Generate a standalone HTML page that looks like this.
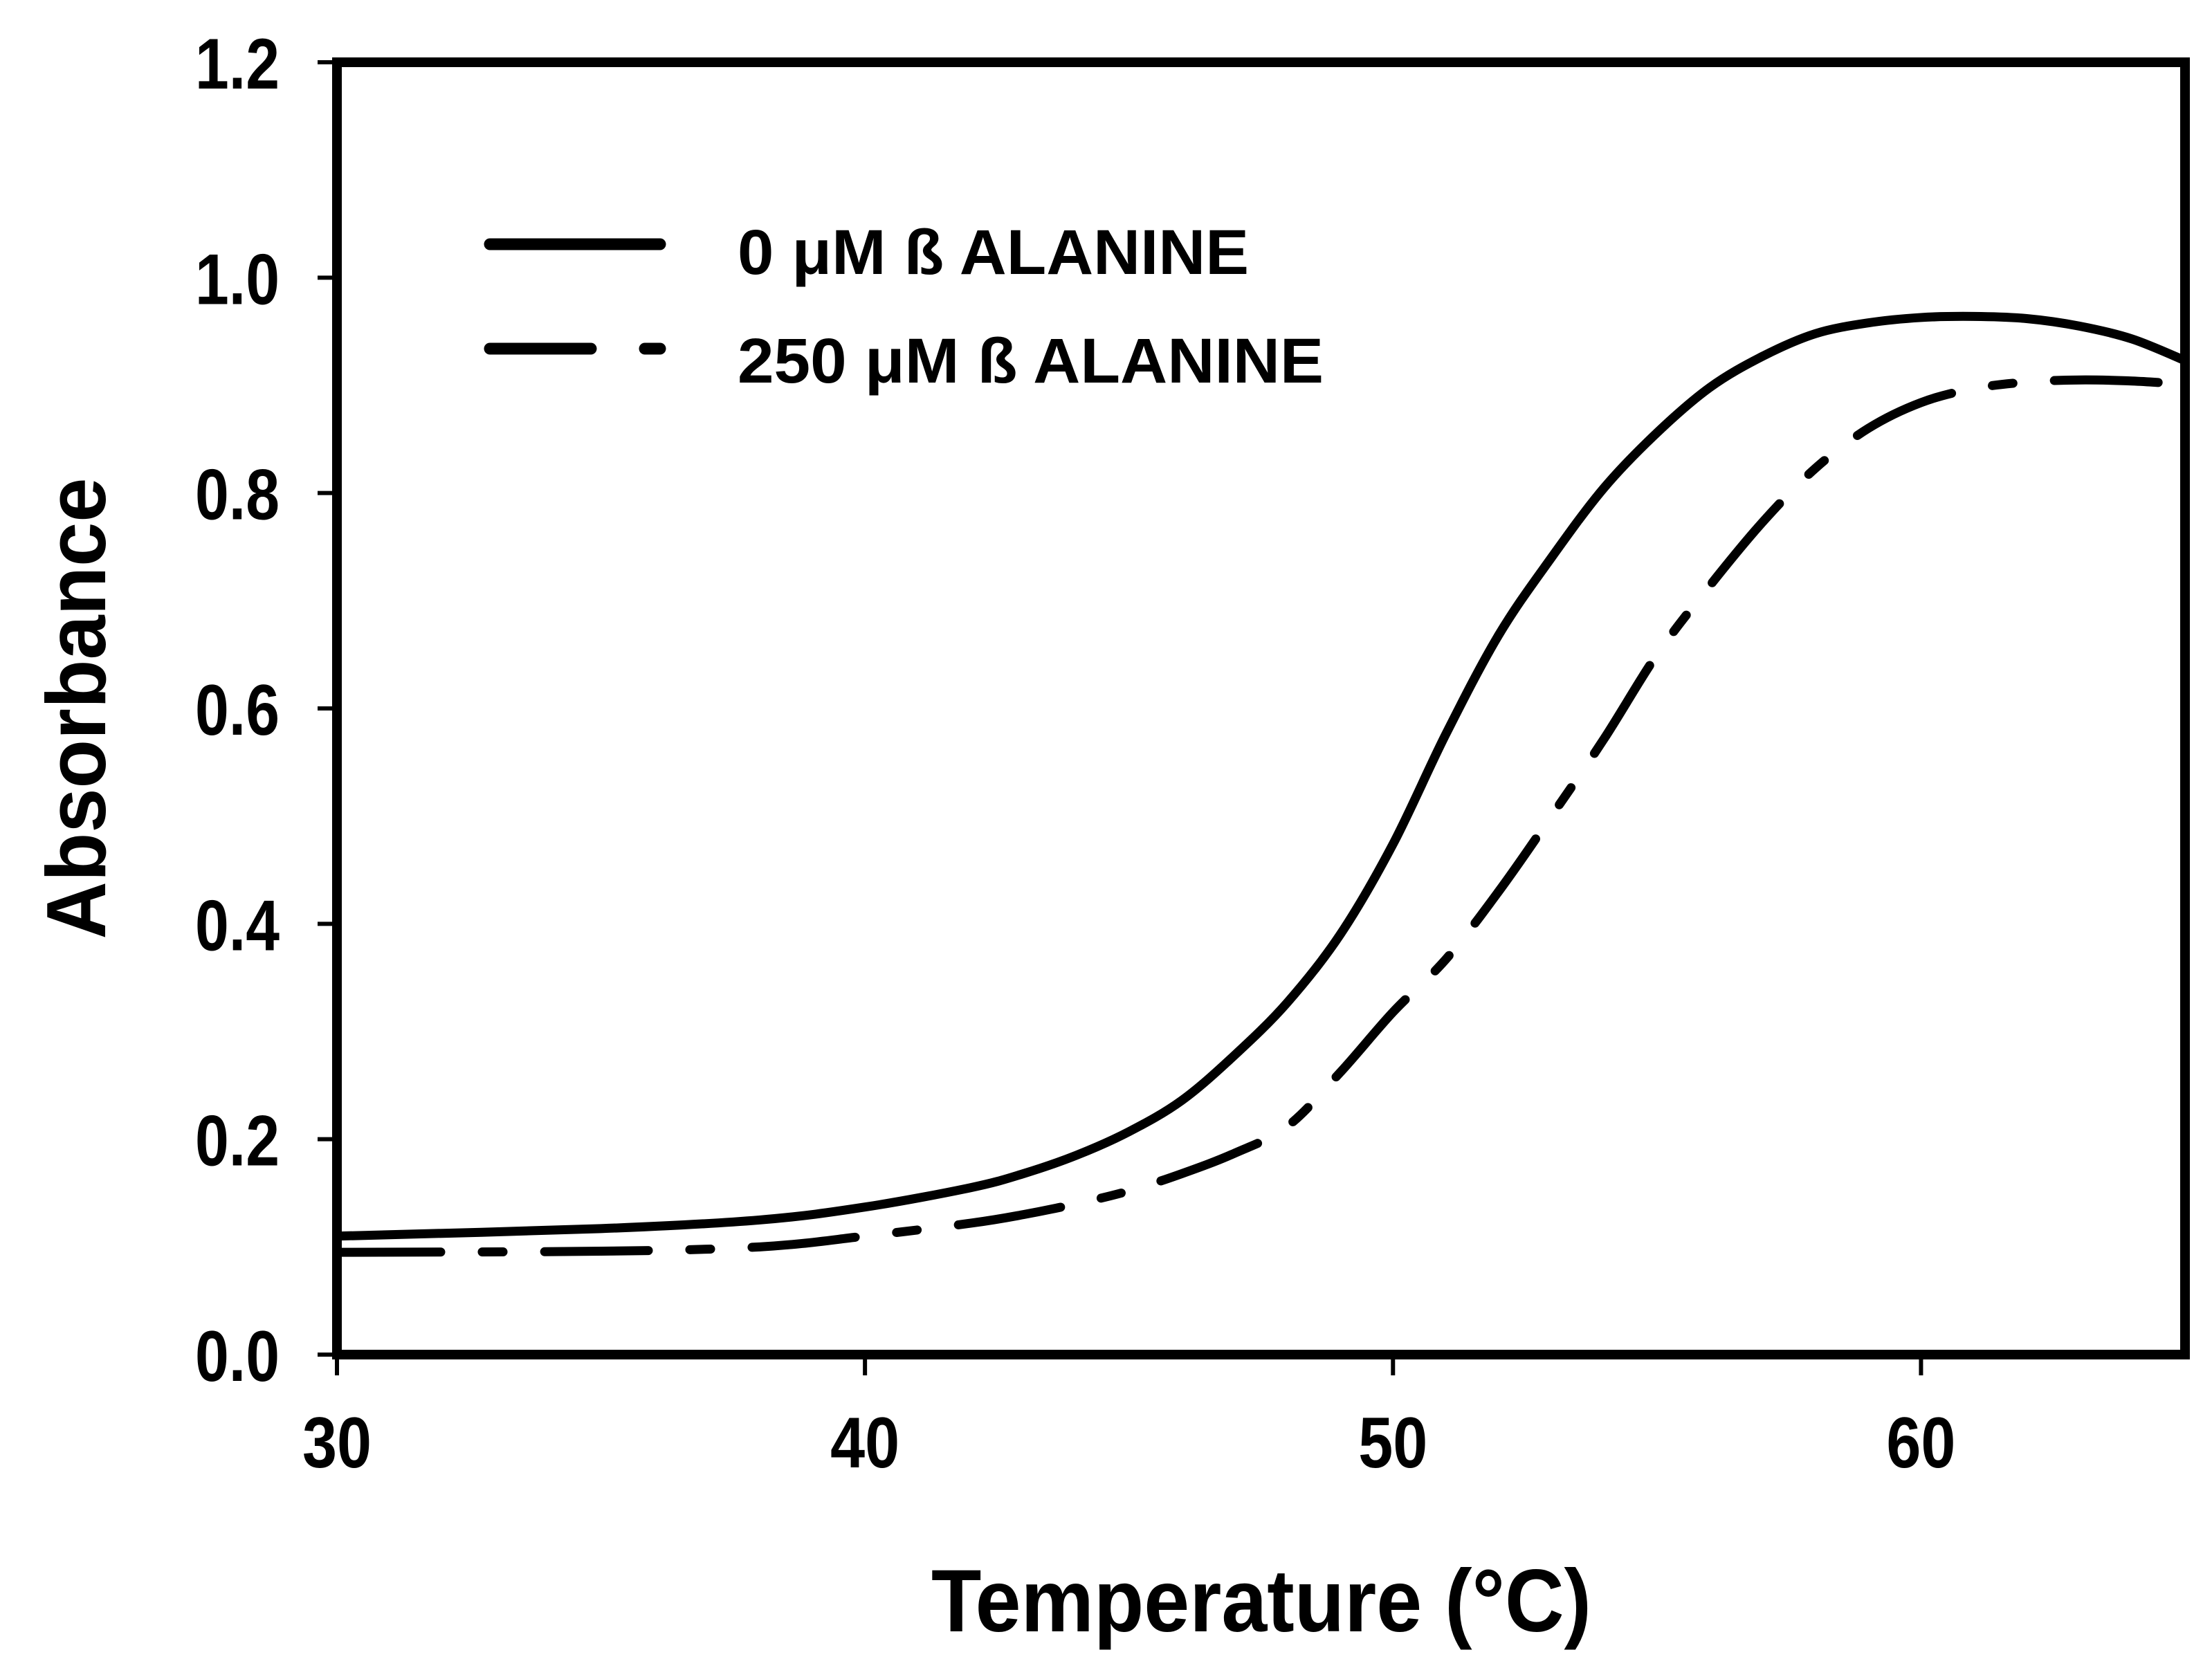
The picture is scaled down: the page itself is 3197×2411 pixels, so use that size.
<!DOCTYPE html>
<html><head><meta charset="utf-8"><style>
html,body{margin:0;padding:0;background:#fff;}
svg{display:block;}
text{font-family:"Liberation Sans",Arial,sans-serif;font-weight:bold;fill:#000;}
</style></head><body>
<svg id="chart" width="3197" height="2411" viewBox="0 0 3197 2411" xmlns="http://www.w3.org/2000/svg">
<rect x="0" y="0" width="3197" height="2411" fill="#fff"/>
<g id="plot"></g>
<text x="1823" y="2358" font-size="128" text-anchor="middle" textLength="954" lengthAdjust="spacingAndGlyphs">Temperature (°C)</text>
<text transform="translate(152,1024) rotate(-90)" font-size="122" text-anchor="middle" textLength="667" lengthAdjust="spacingAndGlyphs">Absorbance</text>
<g>
<line x1="708" y1="353" x2="954" y2="353" stroke="#000" stroke-width="17" stroke-linecap="round"/>
<text x="1066" y="396" font-size="92" textLength="739" lengthAdjust="spacingAndGlyphs">0 μM ß ALANINE</text>
<line x1="708" y1="504" x2="854" y2="504" stroke="#000" stroke-width="17" stroke-linecap="round"/>
<line x1="932" y1="504" x2="954" y2="504" stroke="#000" stroke-width="17" stroke-linecap="round"/>
<text x="1066" y="553" font-size="92" textLength="847" lengthAdjust="spacingAndGlyphs">250 μM ß ALANINE</text>
</g>
</svg>
<script>
const temps = [30,35,38,40,42,43,44,45,46,47,48,49,50,51,52,53,54,55,56,57,58,59,60,61,62,63,64,65];
const absNoAlanine = [0.110,0.117,0.125,0.137,0.155,0.168,0.185,0.207,0.236,0.278,0.327,0.390,0.474,0.576,0.668,0.740,0.805,0.856,0.898,0.927,0.948,0.958,0.963,0.964,0.962,0.955,0.943,0.923];
const absAlanine250 = [0.095,0.096,0.100,0.110,0.122,0.130,0.140,0.152,0.168,0.187,0.212,0.262,0.318,0.367,0.430,0.500,0.572,0.650,0.714,0.773,0.823,0.860,0.884,0.897,0.903,0.905,0.904,0.901];
const xTicks = [30,40,50,60];
const xTickLabels = ["30","40","50","60"];
const yTicks = [0.0,0.2,0.4,0.6,0.8,1.0,1.2];
const yTickLabels = ["0.0","0.2","0.4","0.6","0.8","1.0","1.2"];

const L=487, R=3158, T=90, B=1958, XMIN=30, XMAX=65, YMIN=0, YMAX=1.2;
const NS="http://www.w3.org/2000/svg";
function sx(v){return L+(v-XMIN)/(XMAX-XMIN)*(R-L);}
function sy(v){return B-(v-YMIN)/(YMAX-YMIN)*(B-T);}
const g=document.getElementById('plot');
function mk(tag,attrs){const e=document.createElementNS(NS,tag);for(const k in attrs)e.setAttribute(k,attrs[k]);g.appendChild(e);return e;}

function smoothPath(xs,ys){
  const p=xs.map((x,i)=>[sx(x),sy(ys[i])]);
  let d='M'+p[0][0]+','+p[0][1];
  for(let i=0;i<p.length-1;i++){
    const p0=p[i-1]||p[i],p1=p[i],p2=p[i+1],p3=p[i+2]||p2;
    const c1=[p1[0]+(p2[0]-p0[0])/6,p1[1]+(p2[1]-p0[1])/6];
    const c2=[p2[0]-(p3[0]-p1[0])/6,p2[1]-(p3[1]-p1[1])/6];
    d+=' C'+c1[0]+','+c1[1]+' '+c2[0]+','+c2[1]+' '+p2[0]+','+p2[1];
  }
  return d;
}
const s1=mk('path',{d:smoothPath(temps,absNoAlanine),fill:'none',stroke:'#000','stroke-width':13,'stroke-linejoin':'round'});


const s2=mk('path',{d:smoothPath(temps,absAlanine250),fill:'none',stroke:'#000','stroke-width':13,'stroke-dasharray':'150 60 30 60','stroke-linecap':'round'});



const frame=mk('rect',{x:L,y:T,width:R-L,height:B-T,fill:'none',stroke:'#000','stroke-width':14});



xTicks.forEach((v,i)=>{
  const t=mk('line',{x1:sx(v),x2:sx(v),y1:B,y2:B+30,stroke:'#000','stroke-width':6});
  
  
  const l=mk('text',{x:sx(v),y:2121,'font-size':104,'text-anchor':'middle',textLength:100,lengthAdjust:'spacingAndGlyphs'});
  l.textContent=xTickLabels[i];
  
  
});
yTicks.forEach((v,i)=>{
  const t=mk('line',{x1:L-28,x2:L,y1:sy(v),y2:sy(v),stroke:'#000','stroke-width':6});
  
  
  const l=mk('text',{x:282,y:sy(v)+38,'font-size':104,textLength:122,lengthAdjust:'spacingAndGlyphs'});
  l.textContent=yTickLabels[i];
  
  
});
</script>
</body></html>
